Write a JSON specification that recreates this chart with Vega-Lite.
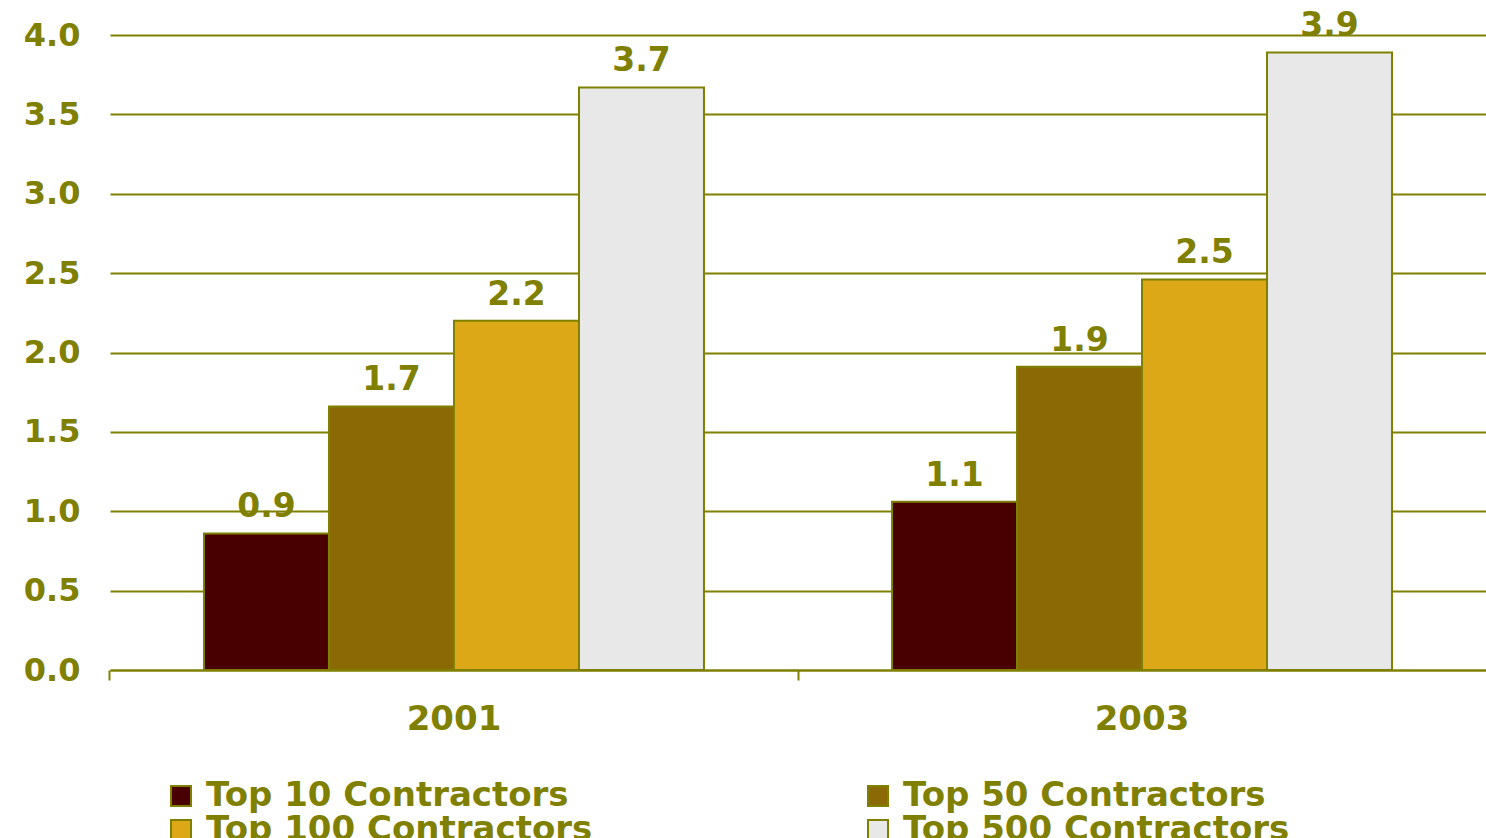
{
  "$schema": "https://vega.github.io/schema/vega-lite/v6.json",
  "width": 1376,
  "height": 635,
  "autosize": {"type": "none"},
  "padding": {"left": 110, "top": 35, "right": 0, "bottom": 168},
  "background": "white",
  "config": {"font": "DejaVu Sans", "view": {"stroke": null}},
  "data": {
    "values": [
      {"year": "2001", "series": "Top 10 Contractors", "value": 0.86},
      {"year": "2001", "series": "Top 50 Contractors", "value": 1.66},
      {"year": "2001", "series": "Top 100 Contractors", "value": 2.2},
      {"year": "2001", "series": "Top 500 Contractors", "value": 3.67},
      {"year": "2003", "series": "Top 10 Contractors", "value": 1.06},
      {"year": "2003", "series": "Top 50 Contractors", "value": 1.91},
      {"year": "2003", "series": "Top 100 Contractors", "value": 2.46},
      {"year": "2003", "series": "Top 500 Contractors", "value": 3.89}
    ]
  },
  "encoding": {
    "x": {
      "field": "year",
      "type": "nominal",
      "scale": {"paddingInner": 0.2733, "paddingOuter": 0.1366},
      "axis": {
        "title": null,
        "labelAngle": 0,
        "domainColor": "#808000",
        "domainWidth": 2,
        "tickColor": "#808000",
        "tickWidth": 2,
        "tickSize": 10,
        "bandPosition": -0.188,
        "labelFontSize": 34,
        "labelFontWeight": "bold",
        "labelColor": "#808000",
        "labelPadding": 22,
        "grid": false
      }
    },
    "xOffset": {
      "field": "series",
      "type": "nominal",
      "sort": ["Top 10 Contractors", "Top 50 Contractors", "Top 100 Contractors", "Top 500 Contractors"],
      "scale": {"paddingInner": 0, "paddingOuter": 0}
    },
    "y": {
      "field": "value",
      "type": "quantitative",
      "scale": {"domain": [0, 4]},
      "axis": {
        "title": null,
        "values": [0, 0.5, 1, 1.5, 2, 2.5, 3, 3.5, 4],
        "format": ".1f",
        "grid": true,
        "gridColor": "#808000",
        "gridWidth": 2,
        "domain": false,
        "ticks": false,
        "labelPadding": 30,
        "labelFontSize": 32,
        "labelFontWeight": "bold",
        "labelColor": "#808000"
      }
    }
  },
  "layer": [
    {
      "mark": {"type": "bar", "stroke": "#808000", "strokeWidth": 2},
      "encoding": {
        "color": {
          "field": "series",
          "type": "nominal",
          "sort": ["Top 10 Contractors", "Top 50 Contractors", "Top 100 Contractors", "Top 500 Contractors"],
          "scale": {
            "domain": ["Top 10 Contractors", "Top 50 Contractors", "Top 100 Contractors", "Top 500 Contractors"],
            "range": ["#480000", "#8B6A05", "#DDA818", "#E8E8E8"]
          },
          "legend": {
            "title": null,
            "orient": "none",
            "legendX": 54,
            "legendY": 744,
            "columns": 2,
            "direction": "horizontal",
            "columnPadding": 268,
            "rowPadding": -9,
            "symbolType": "square",
            "symbolSize": 400,
            "symbolStrokeColor": "#808000",
            "symbolStrokeWidth": 2,
            "labelOffset": 8,
            "labelFontSize": 34,
            "labelFontWeight": "bold",
            "labelColor": "#808000",
            "labelLimit": 600
          }
        }
      }
    },
    {
      "mark": {"type": "text", "dy": -16, "baseline": "alphabetic", "fontSize": 33, "fontWeight": "bold", "color": "#808000"},
      "encoding": {"text": {"field": "value", "type": "quantitative", "format": ".1f"}}
    }
  ]
}
